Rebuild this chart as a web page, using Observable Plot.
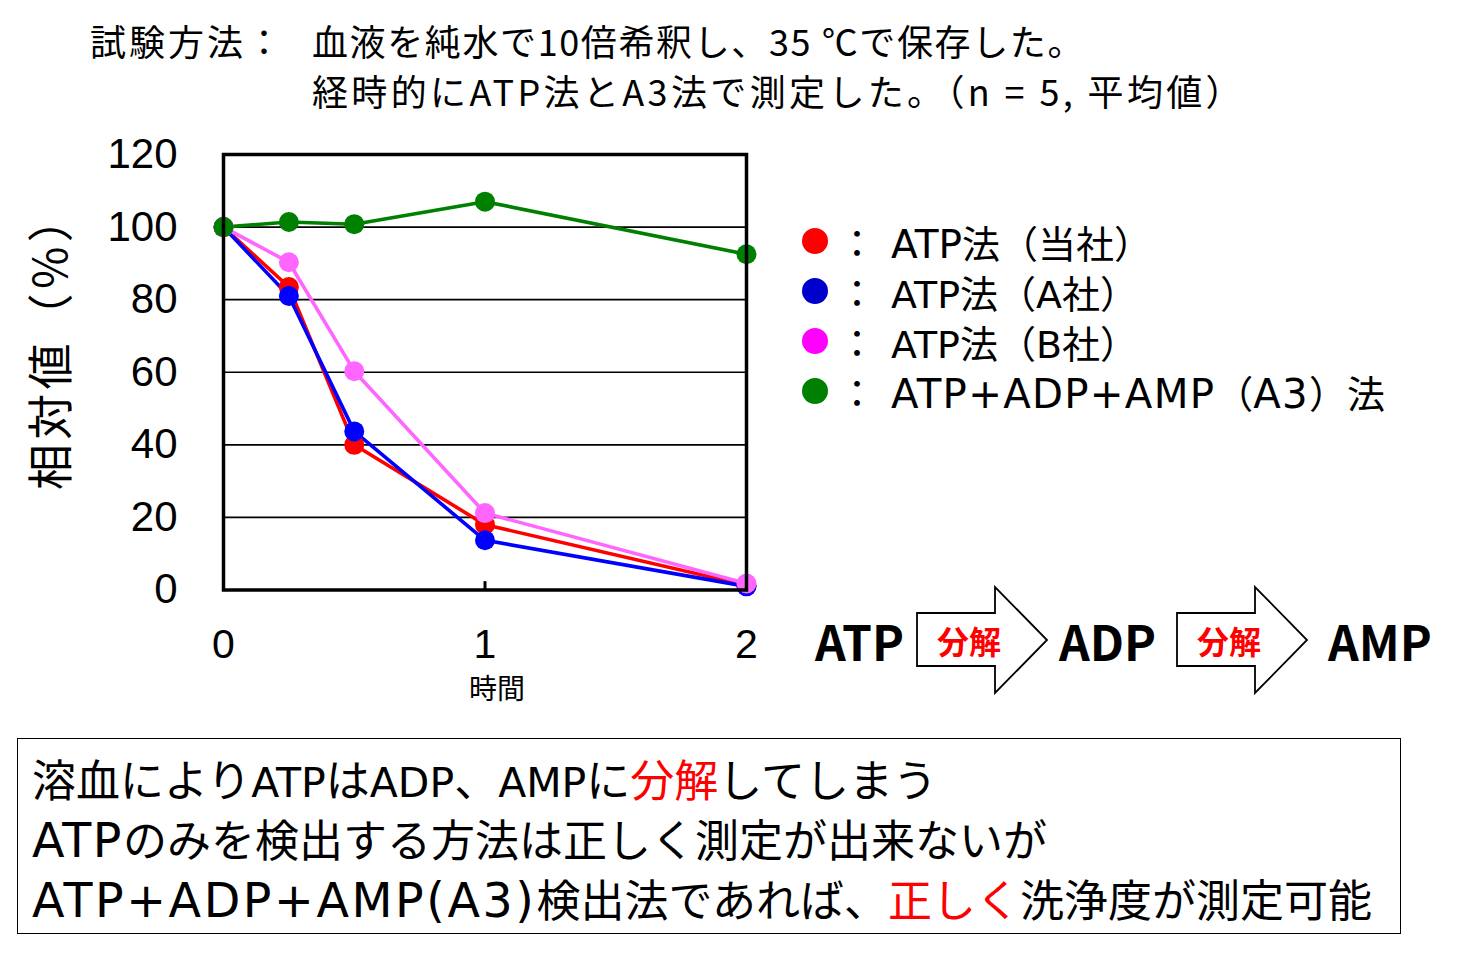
<!DOCTYPE html>
<html><head><meta charset="utf-8">
<script src="https://cdn.jsdelivr.net/npm/d3@7"></script>
<script src="https://cdn.jsdelivr.net/npm/@observablehq/plot@0.6"></script>
<style>
body{margin:0;background:#fff;}
#wrap{position:relative;width:1484px;height:956px;overflow:hidden;font-family:"Noto Sans CJK JP","Noto Sans",sans-serif;color:#000;}
.abs{position:absolute;white-space:nowrap;}
.lat{font-family:"DejaVu Sans","Open Sans",sans-serif;}
</style></head>
<body><div id="wrap"></div>
<script>
// ---- data ----
const times = [0, 0.25, 0.5, 1, 2];
const seriesNames = ["ATP法（当社）", "ATP法（A社）", "ATP法（B社）", "ATP+ADP+AMP（A3）法"];
const atpOwn = [100, 83.5, 40, 18, 1.3];
const atpA = [100, 81, 43.7, 13.7, 1];
const atpB = [100, 90.3, 60.3, 21.2, 1.8];
const a3 = [100, 101.4, 100.8, 107, 92.5];
const lineColors = ["#ff0000", "#0000ff", "#ff66ff", "#008000"];
const dotColors = ["#ff0000", "#0000cc", "#ff00ff", "#008000"];
const yTicks = [0, 20, 40, 60, 80, 100, 120];
const xTicks = [0, 1, 2];
const gridValues = [20, 40, 60, 80, 100];
const titleLead = "試験方法：";
const titleLines = ["血液を純水で10倍希釈し、35 ℃で保存した。", "経時的にATP法とA3法で測定した。（n = 5, 平均値）"];
const yLabel = "相対値（%）";
const xLabel = "時間";
const flowItems = ["ATP", "ADP", "AMP"];
const flowVerb = "分解";
const noteLines = [
  [["溶血によりATPはADP、AMPに", "#000"], ["分解", "#ff0000"], ["してしまう", "#000"]],
  [["ATPのみを検出する方法は正しく測定が出来ないが", "#000"]],
  [["ATP+ADP+AMP(A3)検出法であれば、", "#000"], ["正しく", "#ff0000"], ["洗浄度が測定可能", "#000"]]
];

const allSeries = [atpOwn, atpA, atpB, a3];
const rows = [];
allSeries.forEach((vals, si) => vals.forEach((v, i) => rows.push({series: seriesNames[si], t: times[i], v})));

const wrap = document.getElementById("wrap");
function addDiv(html, style) {
  const d = document.createElement("div");
  d.className = "abs";
  d.innerHTML = html;
  Object.assign(d.style, style);
  wrap.appendChild(d);
  return d;
}
// stretch a text element to a given width with letter-spacing
function fit(el, target) {
  el.style.letterSpacing = "0px";
  const w = el.getBoundingClientRect().width;
  const n = [...el.textContent].length;
  el.style.letterSpacing = ((target - w) / n) + "px";
}
// split into Latin / other runs
function runs(text, color) {
  return text.split(/([\x20-\x7E]+)/).filter(s => s.length).map(s =>
    /^[\x20-\x7E]+$/.test(s) ? `<span class="lat" style="color:${color}">${s}</span>` : `<span style="color:${color}">${s}</span>`
  ).join("");
}
// enlarge Latin runs (a little) and space them so the line reaches the target width
function fitLatin(el, target, base, maxF) {
  const lats = [...el.querySelectorAll(".lat")];
  if (!lats.length) return;
  let f = 1;
  for (let k = 0; k < 3; k++) {
    const w = el.getBoundingClientRect().width;
    const wl = lats.reduce((a, s) => a + s.getBoundingClientRect().width, 0);
    f = Math.min(maxF, Math.max(0.92, f * (1 + (target - w) / wl)));
    lats.forEach(s => s.style.fontSize = (base * f) + "px");
  }
  const w = el.getBoundingClientRect().width;
  const n = lats.reduce((a, s) => a + s.textContent.length, 0);
  const ls = Math.max(0, (target - w) / n);
  lats.forEach(s => s.style.letterSpacing = ls + "px");
}

// ---- chart ----
const W = 800, H = 720;
const chart = Plot.plot({
  width: W, height: H,
  marginTop: 154, marginBottom: 130.5, marginLeft: 223, marginRight: 54,
  style: {fontFamily: '"Liberation Sans","Noto Sans",sans-serif', fontSize: "41px", color: "#000", background: "transparent"},
  x: {type: "linear", domain: [0, 2]},
  y: {domain: [0, 120]},
  color: {domain: seriesNames, range: lineColors},
  marks: [
    Plot.ruleY(gridValues, {stroke: "#000", strokeWidth: 1.6}),
    Plot.axisY({ticks: yTicks, tickSize: 0, tickPadding: 46, fontSize: 42, label: null}),
    Plot.axisX({ticks: xTicks, tickSize: 0, tickPadding: 39, fontSize: 41, label: null, tickFormat: d => String(d)}),
    Plot.ruleX([1], {y1: 0, y2: 2.3, stroke: "#000", strokeWidth: 3}),
    Plot.line(rows, {x: "t", y: "v", z: "series", stroke: "series", strokeWidth: 3.6}),
    Plot.dot(rows, {x: "t", y: "v", fill: "series", r: 10}),
    Plot.frame({stroke: "#000", strokeWidth: 3.5})
  ]
});
chart.style.position = "absolute";
chart.style.left = "0px";
chart.style.top = "0px";
wrap.appendChild(chart);

// ---- title ----
const lead = addDiv(titleLead, {left: "90px", top: "15px", fontSize: "36px", lineHeight: "50px"});
fit(lead, 195);
const titleTargets = [773, 933];
titleLines.forEach((t, i) => {
  const d = addDiv(t, {left: "312px", top: (15 + i * 50) + "px", fontSize: "36px", lineHeight: "50px"});
  fit(d, titleTargets[i]);
});

// ---- axis labels ----
const yl = addDiv(yLabel, {left: "0px", top: "0px", fontSize: "46px", lineHeight: "1"});
fit(yl, 298);
const ylw = yl.getBoundingClientRect().width, ylh = yl.getBoundingClientRect().height;
yl.style.left = (47 - ylw / 2) + "px";
yl.style.top = (341 - ylh / 2) + "px";
yl.style.transform = "rotate(-90deg)";
addDiv(xLabel, {left: "497px", top: "687px", fontSize: "28px", lineHeight: "1", transform: "translate(-50%,-50%)"});

// ---- legend ----
const legendTargets = [261, 247, 247, 494];
seriesNames.forEach((name, i) => {
  const y = 241 + i * 50;
  addDiv("", {left: (815 - 13) + "px", top: (y - 13) + "px", width: "26px", height: "26px", borderRadius: "50%", background: dotColors[i]});
  addDiv("：", {left: "838px", top: (y - 25) + "px", fontSize: "38px", lineHeight: "50px"});
  const d = addDiv(runs(name, "#000"), {left: "891px", top: (y - 24) + "px", fontSize: "38px", lineHeight: "50px"});
  fitLatin(d, legendTargets[i], 38, 1.06);
});

// ---- flow ----
const flowX = [815, 1059, 1328];
flowItems.forEach((t, i) => addDiv(t, {left: flowX[i] + "px", top: "641px", fontSize: "48px", fontWeight: "bold", lineHeight: "1", transform: "translateY(-52%)"}));
[917, 1177].forEach(x0 => {
  const ns = "http://www.w3.org/2000/svg";
  const s = document.createElementNS(ns, "svg");
  s.setAttribute("width", 134); s.setAttribute("height", 110);
  s.style.position = "absolute"; s.style.left = (x0 - 2) + "px"; s.style.top = "585px";
  const p = document.createElementNS(ns, "path");
  p.setAttribute("d", "M2,28 H80 V2 L132,55 L80,108 V81 H2 Z");
  p.setAttribute("fill", "#fff"); p.setAttribute("stroke", "#000"); p.setAttribute("stroke-width", "1.8");
  s.appendChild(p);
  wrap.appendChild(s);
  addDiv(flowVerb, {left: (x0 + 52) + "px", top: "641px", fontSize: "32px", fontWeight: "bold", color: "#ff0000", lineHeight: "1", transform: "translate(-50%,-52%)"});
});

// ---- note box ----
addDiv("", {left: "17px", top: "738px", width: "1384px", height: "196px", border: "1.5px solid #000", boxSizing: "border-box"});
const noteTargets = [905, 1015, 1340];
noteLines.forEach((parts, i) => {
  const d = addDiv(parts.map(([t, c]) => runs(t, c)).join(""),
    {left: "32px", top: (748 + i * 60) + "px", fontSize: "44px", lineHeight: "60px"});
  fitLatin(d, noteTargets[i], 44, 1.08);
});
</script>
</body></html>
